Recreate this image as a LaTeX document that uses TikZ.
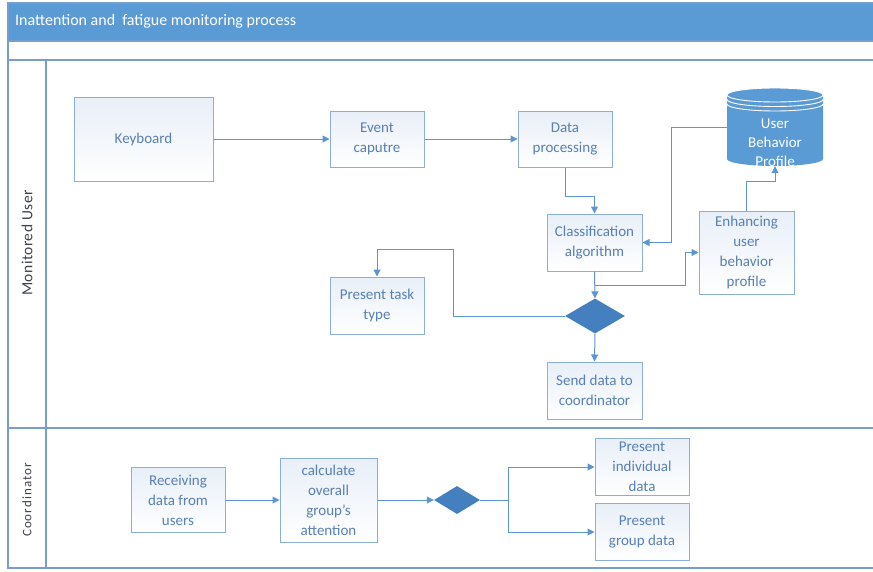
\documentclass[tikz,border=0pt]{standalone}
\usepackage{fontspec}
\setmainfont{Carlito}
\usetikzlibrary{arrows.meta,shapes.geometric,calc}
\definecolor{hdr}{RGB}{91,155,213}
\definecolor{lane}{RGB}{118,158,206}
\definecolor{bdr}{RGB}{140,175,215}
\definecolor{txt}{RGB}{88,128,180}
\definecolor{arr}{RGB}{91,150,210}
\definecolor{dfill}{RGB}{68,128,192}
\definecolor{boxtop}{RGB}{232,239,248}
\definecolor{lbl}{RGB}{60,66,80}
\begin{document}
\begin{tikzpicture}[x=1pt,y=-1pt,
  box/.style={draw=bdr, line width=1pt, top color=boxtop, bottom color=white,
    text=txt, align=center, inner sep=2pt, font=\fontsize{15}{20}\selectfont},
  flow/.style={draw=arr, line width=1pt, -{Triangle[length=7pt,width=7pt]}},
  dec/.style={diamond, fill=dfill, draw=none, inner sep=0pt},
  laneline/.style={draw=lane, line width=1.4pt}]
\useasboundingbox (0,0) rectangle (873,571);
\fill[white] (0,0) rectangle (873,571);
% header
\fill[hdr] (8,3) rectangle (873,41);
\node[anchor=west, text=white, font=\fontsize{16}{19}\selectfont, inner sep=0pt] (title) at (15,21) {Inattention and \ fatigue monitoring process};
% frame
\draw[laneline] (873,3) -- (8,3) -- (8,568) -- (873,568);
\draw[laneline] (8,41) -- (873,41);
\draw[laneline] (8,60) -- (873,60);
\draw[laneline] (8,428) -- (873,428);
\draw[laneline] (46,60) -- (46,568);
\node[rotate=90, text=lbl, font=\fontsize{15.5}{18}\selectfont\addfontfeature{LetterSpace=3}] (lu) at (27,243) {Monitored User};
\node[rotate=90, text=lbl, font=\fontsize{13}{16}\selectfont\addfontfeature{LetterSpace=8}] (lc) at (27,500) {Coordinator};
% Monitored user lane
\node[box, minimum width=139pt, minimum height=84pt] (kb) at (143.5,139) {Keyboard};
\node[box, minimum width=94pt, minimum height=56pt] (ev) at (377,139) {Event\\caputre};
\node[box, minimum width=94pt, minimum height=56pt] (dp) at (565,139) {Data\\processing};
\node[box, minimum width=95pt, minimum height=57pt] (cl) at (594.5,242.5) {Classification\\algorithm};
\node[box, minimum width=95pt, minimum height=83pt] (en) at (746.5,252.5) {Enhancing\\user\\behavior\\profile};
\node[box, minimum width=94pt, minimum height=57pt] (ptt) at (377,305.5) {Present task\\type};
\node[box, minimum width=95pt, minimum height=57pt] (sd) at (594.5,390.5) {Send data to\\coordinator};
\node[dec, minimum width=60pt, minimum height=35pt] (d1) at (595,316) {};
% database cylinder
\fill[hdr] (727,95) -- (727,159) arc[start angle=180, end angle=0, x radius=48, y radius=7] -- (823,95) -- cycle;
\fill[hdr] (775,95) ellipse[x radius=48, y radius=7];
\draw[white, line width=0.9pt] (775,95) ellipse[x radius=48, y radius=7];
\draw[white, line width=0.9pt] (727,99.5) arc[start angle=180, end angle=0, x radius=48, y radius=7];
\draw[white, line width=0.9pt] (727,104) arc[start angle=180, end angle=0, x radius=48, y radius=7];
\node[minimum width=96pt, minimum height=78pt, inner sep=0pt] (db) at (775,127) {};
\node[text=white, align=center, font=\fontsize{15}{19}\selectfont] (dbt) at (775,143) {User\\Behavior\\Profile};
% connectors
\draw[flow] (kb.east) -- (ev.west);
\draw[flow] (ev.east) -- (dp.west);
\draw[flow] (dp.south) -- ++(0,29) -| (cl.north);
\draw[flow] (db.west) -| (671,242.5) -- (cl.east);
\draw[flow] (cl.south) -- (d1.north);
\coordinate (split) at ($(cl.south)+(0,14)$);
\draw[flow] (split) -| (685,252.5) -- (en.west);
\draw[flow] (en.north) -- ++(0,-29) -| (db.south);
\draw[flow] (d1.west) -| (453,249) -| (ptt.north);
\draw[flow] (d1.south) -- (sd.north);
% Coordinator lane
\node[box, minimum width=94pt, minimum height=65pt] (rx) at (178,500) {Receiving\\data from\\users};
\node[box, minimum width=97pt, minimum height=84pt] (ca) at (328.5,500) {calculate\\overall\\group's\\attention};
\node[dec, minimum width=46pt, minimum height=28pt] (d2) at (457,500) {};
\node[box, minimum width=94pt, minimum height=57pt] (pi) at (642,467) {Present\\individual\\data};
\node[box, minimum width=94pt, minimum height=57pt] (pg) at (642,532) {Present\\group data};
\draw[flow] (rx.east) -- (ca.west);
\draw[flow] (ca.east) -- (d2.west);
\coordinate (br) at ($(d2.east)+(28,0)$);
\draw[draw=arr, line width=1pt] (d2.east) -- (br);
\draw[flow] (br) |- (pi.west);
\draw[flow] (br) |- (pg.west);
\end{tikzpicture}
\end{document}
